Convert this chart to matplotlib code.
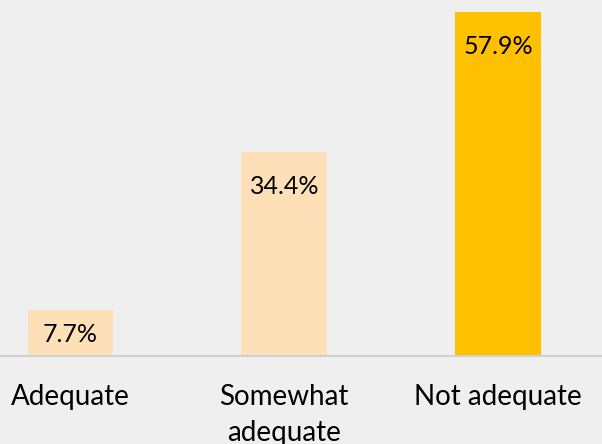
import matplotlib.pyplot as plt

categories = ['Adequate', 'Somewhat\nadequate', 'Not adequate']
values = [7.7, 34.4, 57.9]
colors = ['#FDDFB8', '#FDDFB8', '#FFC000']


def main():
    fig = plt.figure(figsize=(6.02, 4.44), dpi=100)
    fig.patch.set_facecolor('#efefef')
    ax = fig.add_axes([0, 88 / 444, 1, 356 / 444])
    ax.set_facecolor('#efefef')

    x = range(len(categories))
    bars = ax.bar(x, values, width=0.4, color=colors)

    ymax = 57.9 * 356 / 344
    ax.set_xlim(-70.5 / 214, 2 + 104 / 214)
    ax.set_ylim(0, ymax)

    # label near top of bar, or centred when the bar is short
    off = 34.5 / 356 * ymax
    for b, v in zip(bars, values):
        y = v - off if v > 2 * off else v / 2 - 0.3
        ax.text(b.get_x() + b.get_width() / 2, y, '{:.1f}%'.format(v),
                ha='center', va='center', fontsize=18, family='Lato',
                color='black')

    for s in ['top', 'right', 'left']:
        ax.spines[s].set_visible(False)
    ax.spines['bottom'].set_color('#d0d0d0')
    ax.spines['bottom'].set_linewidth(1.5)
    ax.set_yticks([])
    ax.set_xticks(list(x))
    ax.set_xticklabels(categories, fontsize=20, family='Lato',
                       linespacing=1.5)
    ax.tick_params(axis='x', length=0, pad=20)

    fig.savefig('out.png', dpi=100, facecolor=fig.get_facecolor())


if __name__ == '__main__':
    main()
